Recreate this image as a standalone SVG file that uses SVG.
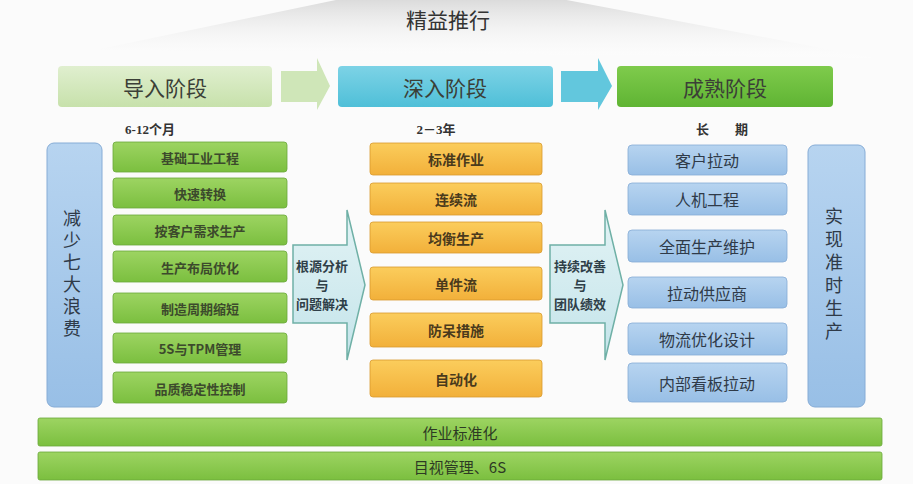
<svg xmlns="http://www.w3.org/2000/svg" width="913" height="484" viewBox="0 0 913 484">
<defs>
<linearGradient id="roof" x1="0" y1="0" x2="0" y2="1"><stop offset="0" stop-color="#d6d6d6"/><stop offset="1" stop-color="#ffffff" stop-opacity="0.2"/></linearGradient>
<linearGradient id="g1" x1="0" y1="0" x2="0" y2="1"><stop offset="0" stop-color="#e0efcf"/><stop offset="1" stop-color="#c7e1ab"/></linearGradient>
<linearGradient id="g2" x1="0" y1="0" x2="0" y2="1"><stop offset="0" stop-color="#7dd3e6"/><stop offset="1" stop-color="#4fbfd8"/></linearGradient>
<linearGradient id="g3" x1="0" y1="0" x2="0" y2="1"><stop offset="0" stop-color="#7fcb4c"/><stop offset="1" stop-color="#5fb433"/></linearGradient>
<linearGradient id="gg" x1="0" y1="0" x2="0" y2="1"><stop offset="0" stop-color="#9dd462"/><stop offset="1" stop-color="#7bbf3f"/></linearGradient>
<linearGradient id="go" x1="0" y1="0" x2="0" y2="1"><stop offset="0" stop-color="#fbcd5c"/><stop offset="1" stop-color="#f2b03a"/></linearGradient>
<linearGradient id="gb" x1="0" y1="0" x2="0" y2="1"><stop offset="0" stop-color="#b7d4f0"/><stop offset="1" stop-color="#98bfe6"/></linearGradient>
<linearGradient id="ga" x1="0" y1="0" x2="0" y2="1"><stop offset="0" stop-color="#e2f3f5"/><stop offset="1" stop-color="#c4e4ea"/></linearGradient>
</defs>
<style>
text{font-family:"Noto Sans CJK SC","Liberation Sans",sans-serif;text-anchor:middle;dominant-baseline:central;fill:#3b3f37}
.stage{font-size:21px}
.sub{font-family:"Liberation Serif","Noto Sans CJK SC",serif;font-weight:bold;font-size:13px;fill:#333}
.gbox rect{fill:url(#gg);stroke:#6aa83a;stroke-width:0.8}
.gbox text{font-size:13px;font-weight:bold;fill:#3c4a2c}
.obox rect{fill:url(#go);stroke:#d99a2e;stroke-width:0.8}
.obox text{font-size:14px;font-weight:bold;fill:#4a3a1c}
.bbox rect{fill:url(#gb);stroke:#86acd6;stroke-width:0.8}
.bbox text{font-size:16px;fill:#2f3a48}
.bar{fill:url(#gb);stroke:#86acd6;stroke-width:1}
.vt{font-size:18px;fill:#2f3a48;writing-mode:vertical-rl;letter-spacing:4px}
.big path{fill:url(#ga);stroke:#6fb0a6;stroke-width:1.5}
.big text{font-size:13px;font-weight:bold;fill:#2f3f48}
.base rect{fill:url(#gg);stroke:#6aa83a;stroke-width:0.8}
.base text{font-size:15px;fill:#2d3a24}
</style>
<rect width="913" height="484" fill="#fbfbfb"/>
<polygon points="95,50 360,-5 540,-5 875,58" fill="url(#roof)"/>
<text x="448" y="19" style="font-size:21px;fill:#333">精益推行</text>

<g id="stage1"><rect x="58" y="66" width="214" height="41" rx="4" fill="url(#g1)"/><text class="stage" x="165" y="87">导入阶段</text></g>
<g id="stage2"><rect x="338" y="66" width="215" height="41" rx="4" fill="url(#g2)"/><text class="stage" x="445" y="87">深入阶段</text></g>
<g id="stage3"><rect x="617" y="66" width="216" height="41" rx="4" fill="url(#g3)"/><text class="stage" x="725" y="87">成熟阶段</text></g>

<g id="connectors">
<polygon points="281,71 317,71 317,58 330,86 317,110 317,102 281,102" fill="#cfe6b8"/>
<polygon points="561,71 598,71 598,58 612,86 598,110 598,102 561,102" fill="#62c7dd"/>
</g>

<text class="sub" x="150" y="129">6-12个月</text>
<text class="sub" x="436" y="129">2－3年</text>
<text class="sub" x="722" y="129">长　　期</text>

<g id="left-bar"><rect class="bar" x="47" y="143" width="55" height="264" rx="7"/>
<text class="vt" x="72" y="275">减少七大浪费</text></g>

<g id="g-1" class="gbox"><rect x="113" y="142" width="174" height="30" rx="3"/><text x="200" y="157">基础工业工程</text></g>
<g id="g-2" class="gbox"><rect x="113" y="178" width="174" height="30" rx="3"/><text x="200" y="193">快速转换</text></g>
<g id="g-3" class="gbox"><rect x="113" y="215" width="174" height="30" rx="3"/><text x="200" y="230">按客户需求生产</text></g>
<g id="g-4" class="gbox"><rect x="113" y="251" width="174" height="31" rx="3"/><text x="200" y="267">生产布局优化</text></g>
<g id="g-5" class="gbox"><rect x="113" y="293" width="174" height="30" rx="3"/><text x="200" y="308">制造周期缩短</text></g>
<g id="g-6" class="gbox"><rect x="113" y="333" width="174" height="30" rx="3"/><text x="200" y="348">5S与TPM管理</text></g>
<g id="g-7" class="gbox"><rect x="113" y="372" width="174" height="31" rx="3"/><text x="200" y="388">品质稳定性控制</text></g>

<g id="arrow-root" class="big"><path d="M293,245 H347 V210 L365,285 L347,360 V323 H293 Z"/>
<text x="322" y="265">根源分析</text><text x="322" y="284">与</text><text x="322" y="303">问题解决</text></g>

<g id="o-1" class="obox"><rect x="370" y="143" width="172" height="32" rx="3"/><text x="456" y="159">标准作业</text></g>
<g id="o-2" class="obox"><rect x="370" y="183" width="172" height="32" rx="3"/><text x="456" y="199">连续流</text></g>
<g id="o-3" class="obox"><rect x="370" y="222" width="172" height="31" rx="3"/><text x="456" y="238">均衡生产</text></g>
<g id="o-4" class="obox"><rect x="370" y="267" width="172" height="33" rx="3"/><text x="456" y="284">单件流</text></g>
<g id="o-5" class="obox"><rect x="370" y="313" width="172" height="34" rx="3"/><text x="456" y="330">防呆措施</text></g>
<g id="o-6" class="obox"><rect x="370" y="360" width="172" height="37" rx="3"/><text x="456" y="379">自动化</text></g>

<g id="arrow-cont" class="big"><path d="M550,245 H605 V210 L623,285 L605,360 V323 H550 Z"/>
<text x="580" y="265">持续改善</text><text x="580" y="284">与</text><text x="580" y="303">团队绩效</text></g>

<g id="b-1" class="bbox"><rect x="628" y="145" width="159" height="30" rx="4"/><text x="707" y="160">客户拉动</text></g>
<g id="b-2" class="bbox"><rect x="628" y="183" width="159" height="32" rx="4"/><text x="707" y="199">人机工程</text></g>
<g id="b-3" class="bbox"><rect x="628" y="230" width="159" height="32" rx="4"/><text x="707" y="246">全面生产维护</text></g>
<g id="b-4" class="bbox"><rect x="628" y="277" width="159" height="31" rx="4"/><text x="707" y="293">拉动供应商</text></g>
<g id="b-5" class="bbox"><rect x="628" y="323" width="159" height="32" rx="4"/><text x="707" y="339">物流优化设计</text></g>
<g id="b-6" class="bbox"><rect x="628" y="363" width="159" height="39" rx="4"/><text x="707" y="383">内部看板拉动</text></g>

<g id="right-bar"><rect class="bar" x="808" y="145" width="57" height="262" rx="7"/>
<text class="vt" x="834" y="276" style="letter-spacing:5px">实现准时生产</text></g>

<g id="base-1" class="base"><rect x="38" y="418" width="844" height="28" rx="2"/><text x="460" y="432">作业标准化</text></g>
<g id="base-2" class="base"><rect x="38" y="452" width="844" height="28" rx="2"/><text x="460" y="466">目视管理、6S</text></g>
</svg>
